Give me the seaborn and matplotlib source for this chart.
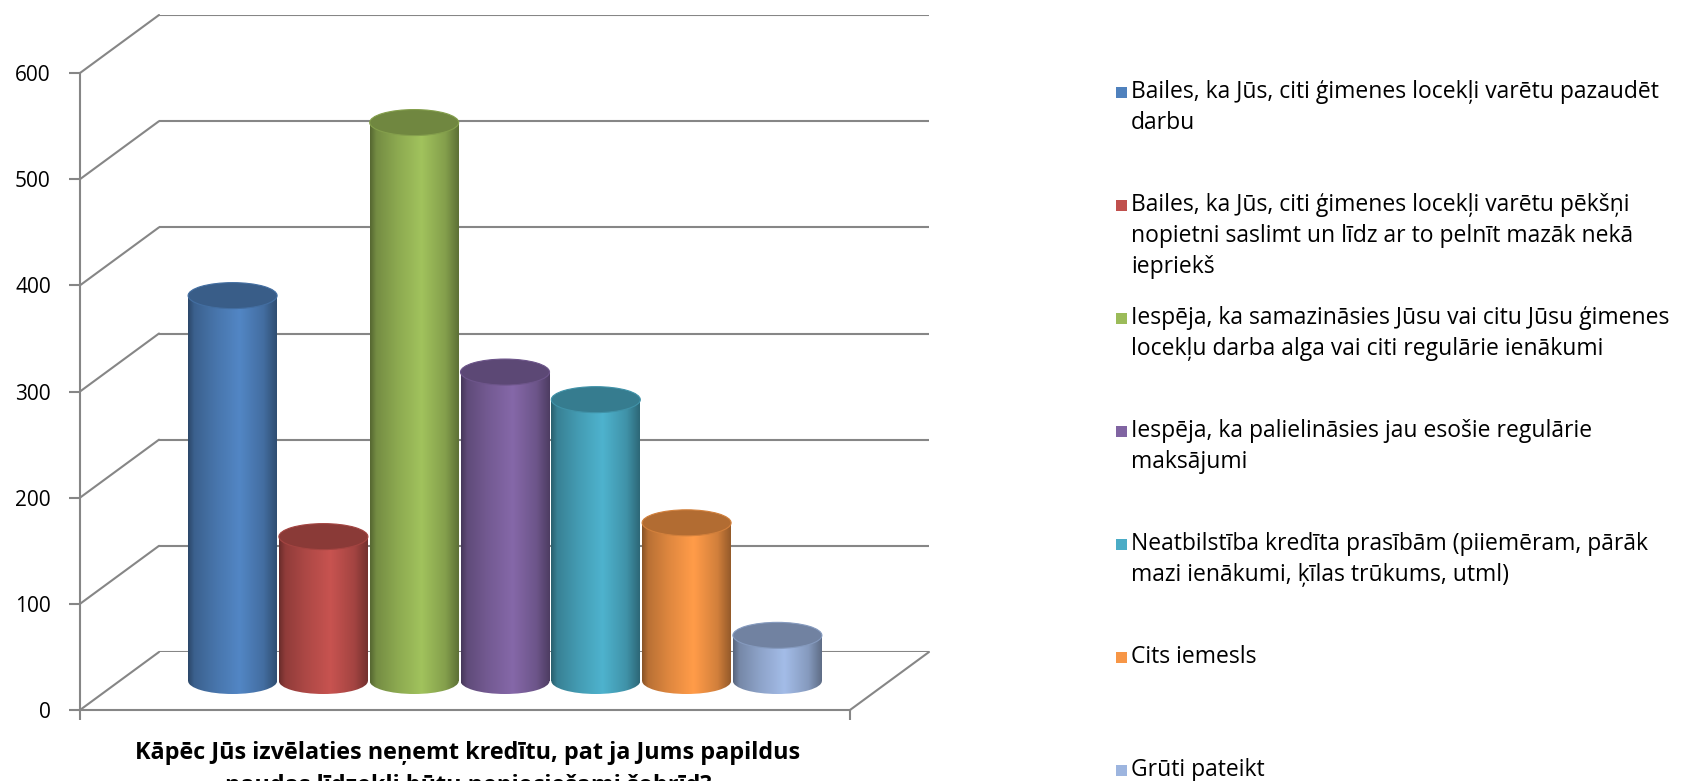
import numpy as np
import matplotlib
matplotlib.use("Agg")
import matplotlib.pyplot as plt
import matplotlib.colors as mcolors
from matplotlib.patches import Ellipse, Rectangle, ConnectionPatch
import seaborn as sns

# data
categories = [
    "Bailes, ka Jūs, citi ģimenes locekļi varētu pazaudēt\ndarbu",
    "Bailes, ka Jūs, citi ģimenes locekļi varētu pēkšņi\nnopietni saslimt un līdz ar to pelnīt mazāk nekā\niepriekš",
    "Iespēja, ka samazināsies Jūsu vai citu Jūsu ģimenes\nlocekļu darba alga vai citi regulārie ienākumi",
    "Iespēja, ka palielināsies jau esošie regulārie\nmaksājumi",
    "Neatbilstība kredīta prasībām (piiemēram, pārāk\nmazi ienākumi, ķīlas trūkums, utml)",
    "Cits iemesls",
    "Grūti pateikt",
]
values = [363, 136, 526, 291, 265, 149, 43]
colors = ["#4F81BD", "#C0504D", "#9BBB59", "#8064A2", "#4BACC6", "#F79646", "#9DB5DF"]
yticks = [0, 100, 200, 300, 400, 500, 600]
title = "Kāpēc Jūs izvēlaties neņemt kredītu, pat ja Jums papildus\nnaudas līdzekļi būtu nepieciešami šobrīd?"

W, H = 1688, 781
sns.set_theme(style="white")
plt.rcParams['font.family'] = ['Open Sans', 'DejaVu Sans']

fig = plt.figure(figsize=(W / 100, H / 100), dpi=100)


def box(left, top, width, height):
    # pixel box -> figure fraction
    return [left / W, 1 - (top + height) / H, width / W, height / H]


XLIM = (-1.24, 7.24)
YLIM = (0, 600)
grid_c = "#868686"
lw = 1.5

# back wall with gridlines
back_ax = fig.add_axes(box(159, 15, 770, 637))
back_ax.set_xlim(XLIM)
back_ax.set_ylim(YLIM)
back_ax.set_yticks(yticks)
back_ax.set_xticks([])
back_ax.yaxis.grid(True, color=grid_c, lw=lw)
back_ax.tick_params(left=False, labelleft=False)
for s in back_ax.spines.values():
    s.set_visible(False)
back_ax.patch.set_alpha(0)

# front plane: value axis and floor edge
front_ax = fig.add_axes(box(80, 73, 770, 637))
front_ax.set_xlim(XLIM)
front_ax.set_ylim(YLIM)
front_ax.set_yticks(yticks)
front_ax.set_xticks(list(XLIM))
front_ax.set_xticklabels([])
front_ax.patch.set_alpha(0)
for k in ["top", "right"]:
    front_ax.spines[k].set_visible(False)
for k in ["left", "bottom"]:
    front_ax.spines[k].set_color(grid_c)
    front_ax.spines[k].set_linewidth(lw)
front_ax.tick_params(axis="y", left=True, direction="out", length=8, width=lw,
                     color=grid_c, labelsize=15, labelcolor="black", pad=13)
front_ax.tick_params(axis="x", bottom=True, direction="out", length=7, width=lw,
                     color=grid_c)

# side wall lines joining front and back
for v in yticks:
    fig.add_artist(ConnectionPatch(xyA=(XLIM[0], v), coordsA=front_ax.transData,
                                   xyB=(XLIM[0], v), coordsB=back_ax.transData,
                                   color=grid_c, lw=lw))
fig.add_artist(ConnectionPatch(xyA=(XLIM[1], 0), coordsA=front_ax.transData,
                               xyB=(XLIM[1], 0), coordsB=back_ax.transData,
                               color=grid_c, lw=lw))

# bars sit in the middle plane; a little room below 0 for the bottom caps
cap_h = 26 * 600 / 637  # ellipse height in data units
low = 30
bar_ax = fig.add_axes(box(120, 44, 770, 637 * (600 + low) / 600))
sns.barplot(x=list(range(len(values))), y=values, hue=list(range(len(values))),
            palette=colors, saturation=1, width=0.98, legend=False, ax=bar_ax)

t = np.linspace(0, 1, 256)
shade = np.interp(t, [0, 0.07, 0.3, 0.58, 0.85, 1.0], [0.55, 0.75, 0.9, 1.04, 0.85, 0.6])

for p in list(bar_ax.patches):
    base = np.array(mcolors.to_rgb(p.get_facecolor()))
    x0, w, h = p.get_x(), p.get_width(), p.get_height()
    cx = x0 + w / 2
    p.set_facecolor("none")
    p.set_edgecolor("none")
    img = np.clip(base[None, None, :] * shade[None, :, None], 0, 1)
    im = bar_ax.imshow(img, extent=[x0, x0 + w, -cap_h, h], aspect="auto",
                       interpolation="bilinear", zorder=2)
    im.set_clip_path(p)
    bottom = Ellipse((cx, 0), w, cap_h, facecolor="none", edgecolor="none")
    bar_ax.add_patch(bottom)
    im2 = bar_ax.imshow(img, extent=[x0, x0 + w, -cap_h, h], aspect="auto",
                        interpolation="bilinear", zorder=2)
    im2.set_clip_path(bottom)
    top = Ellipse((cx, h), w, cap_h, facecolor=base * 0.72,
                  edgecolor=np.clip(base * 0.85, 0, 1), lw=0.8, zorder=3)
    bar_ax.add_patch(top)

bar_ax.set_xlim(XLIM)
bar_ax.set_ylim(-low, YLIM[1])
bar_ax.axis("off")

# legend
for i, (lab, c) in enumerate(zip(categories, colors)):
    yc = 93 + i * 113
    fig.add_artist(Rectangle((1116 / W, 1 - (yc + 5) / H), 11 / W, 11 / H,
                             transform=fig.transFigure, color=c, lw=0))
    fig.text(1131 / W, 1 - (yc - 13) / H, lab, ha="left", va="top",
             fontsize=16.5, linespacing=1.4, color="black")

# axis title, its second line cut by the bottom edge as in the original
fig.text(468 / W, 1 - 741 / H, title, ha="center", va="top",
         fontsize=16.8, fontweight="bold", linespacing=1.5, color="black")

fig.savefig("out.png", dpi=100)
